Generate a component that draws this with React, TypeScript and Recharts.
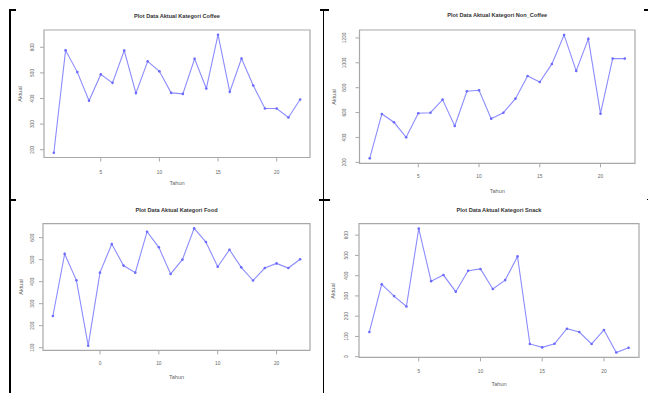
import { LineChart, Line, XAxis, YAxis, ReferenceArea } from 'recharts';

// Tahun 1..22
const years = [1, 2, 3, 4, 5, 6, 7, 8, 9, 10, 11, 12, 13, 14, 15, 16, 17, 18, 19, 20, 21, 22];

const coffee = [188, 588, 503, 391, 494, 461, 587, 421, 545, 506, 422, 418, 555, 439, 649, 426, 556, 451, 361, 361, 326, 396];
const nonCoffee = [232, 589, 522, 401, 594, 599, 704, 492, 771, 779, 551, 599, 712, 894, 846, 991, 1224, 935, 1192, 591, 1034, 1034];
const food = [244, 526, 406, 109, 441, 571, 473, 441, 627, 556, 435, 500, 642, 580, 468, 545, 465, 405, 462, 483, 462, 502];
const snack = [122, 357, 299, 248, 632, 373, 403, 321, 424, 433, 334, 378, 495, 63, 46, 64, 138, 122, 63, 132, 21, 44];

const xTicks = [5, 10, 15, 20];
const xLabels = ['5', '10', '15', '20'];
const foodXLabels = ['0', '10', '10', '20'];

const coffeeTicks = [200, 300, 400, 500, 600];
const nonCoffeeTicks = [200, 400, 600, 800, 1000, 1200];
const foodTicks = [100, 200, 300, 400, 500, 600];
const snackTicks = [0, 100, 200, 300, 400, 500, 600];

const FONT = '"Liberation Sans", Arial, sans-serif';
const LINE = '#8c8cff';
const DOT = '#6a6aff';
const BOX = '#a8a8a8';
const TXT = '#666';

interface PanelProps {
  title: string;
  values: number[];
  yTicks: number[];
  labels: string[];
  pos: [number, number];
  box: { l: number; t: number; r: number; b: number };
  yOff: number;
  xOff: number;
  aktualX: number;
  tahunY: number;
  titleY: number;
}

function Panel(p: PanelProps) {
  const data = years.map((t, i) => ({ t, v: p.values[i] }));
  const lo = Math.min(...p.values);
  const hi = Math.max(...p.values);
  const yPad = (hi - lo) * 0.04;
  const yDom: [number, number] = [lo - yPad, hi + yPad];
  const xPad = (years[years.length - 1] - years[0]) * 0.04;
  const xDom: [number, number] = [years[0] - xPad, years[years.length - 1] + xPad];
  const W = 324;
  const H = 200;
  const midX = (p.box.l + p.box.r) / 2;
  const midY = (p.box.t + p.box.b) / 2;
  const tickSize = 4;

  const YTick = (props: any) => {
    const { x, y, payload } = props;
    return (
      <text x={x} y={y} transform={`rotate(-90 ${x} ${y})`} textAnchor="middle" dy="0.35em"
        fontSize={4.8} fill={TXT} fontFamily={FONT}>
        {payload.value}
      </text>
    );
  };
  const XTick = (props: any) => {
    const { x, y, payload } = props;
    const idx = xTicks.indexOf(payload.value);
    return (
      <text x={x} y={y} textAnchor="middle" dy="0.35em" fontSize={4.8} fill={TXT} fontFamily={FONT}>
        {p.labels[idx]}
      </text>
    );
  };

  return (
    <div style={{ position: 'absolute', left: p.pos[0], top: p.pos[1], width: W, height: H }}>
      <LineChart width={W} height={H} data={data}
        margin={{ top: p.box.t, right: W - p.box.r, left: 0, bottom: 0 }}>
        <XAxis dataKey="t" type="number" domain={xDom} ticks={xTicks} interval={0} allowDataOverflow
          height={H - p.box.b} axisLine={false} tickSize={tickSize} tickMargin={p.xOff - tickSize}
          tickLine={{ stroke: BOX }} tick={XTick} />
        <YAxis type="number" domain={yDom} ticks={p.yTicks} interval={0} allowDataOverflow
          width={p.box.l} axisLine={false} tickSize={tickSize} tickMargin={p.yOff - tickSize}
          tickLine={{ stroke: BOX }} tick={YTick} />
        <ReferenceArea x1={xDom[0]} x2={xDom[1]} y1={yDom[0]} y2={yDom[1]} fill="none" fillOpacity={0}
          stroke={BOX} strokeWidth={1.2} ifOverflow="visible" />
        <Line dataKey="v" type="linear" stroke={LINE} strokeWidth={1.1}
          dot={{ r: 1.3, fill: DOT, stroke: 'none', strokeWidth: 0 }} isAnimationActive={false} />
      </LineChart>
      <div style={{ position: 'absolute', left: midX, top: p.titleY, transform: 'translate(-50%, -50%)',
        fontFamily: FONT, fontWeight: 'bold', fontSize: 5.6, color: '#333', whiteSpace: 'nowrap' }}>
        {p.title}
      </div>
      <div style={{ position: 'absolute', left: midX, top: p.tahunY, transform: 'translate(-50%, -50%)',
        fontFamily: FONT, fontSize: 5.6, color: TXT, whiteSpace: 'nowrap' }}>
        Tahun
      </div>
      <div style={{ position: 'absolute', left: p.aktualX, top: midY, transform: 'translate(-50%, -50%) rotate(-90deg)',
        fontFamily: FONT, fontSize: 5.6, color: TXT, whiteSpace: 'nowrap' }}>
        Aktual
      </div>
    </div>
  );
}

const rule = (left: number, top: number, width: number, height: number) => (
  <div style={{ position: 'absolute', left, top, width, height, background: '#000' }} />
);

export default function App() {
  return (
    <div style={{ position: 'absolute', left: 0, top: 0, width: 648, height: 393, background: '#fff', overflow: 'hidden' }}>
      <Panel title="Plot Data Aktual Kategori Coffee" values={coffee} yTicks={coffeeTicks} labels={xLabels}
        pos={[0, 0]} box={{ l: 44, t: 30, r: 310, b: 157.5 }} yOff={11.6} xOff={15.2} aktualX={20} tahunY={183} titleY={16} />
      <Panel title="Plot Data Aktual Kategori Non_Coffee" values={nonCoffee} yTicks={nonCoffeeTicks} labels={xLabels}
        pos={[324, 0]} box={{ l: 35.5, t: 30, r: 311, b: 163.3 }} yOff={14.8} xOff={13.4} aktualX={10} tahunY={190.7} titleY={15} />
      <Panel title="Plot Data Aktual Kategori Food" values={food} yTicks={foodTicks} labels={foodXLabels}
        pos={[0, 195]} box={{ l: 43, t: 28.7, r: 310, b: 155.4 }} yOff={11} xOff={12.6} aktualX={20.7} tahunY={181.7} titleY={15} />
      <Panel title="Plot Data Aktual Kategori Snack" values={snack} yTicks={snackTicks} labels={xLabels}
        pos={[324, 195]} box={{ l: 35, t: 28.7, r: 315, b: 162.4 }} yOff={12.2} xOff={13.6} aktualX={9.3} tahunY={189.3} titleY={15} />
      {rule(9, 9, 1.6, 384)}
      {rule(9, 9, 7, 1.5)}
      {rule(9, 199, 7, 1.5)}
      {rule(322.5, 9, 1.6, 384)}
      {rule(320, 9, 9, 1.5)}
      {rule(319, 199, 11, 1.5)}
      {rule(644, 9, 4, 1.5)}
      {rule(647, 199, 1, 1)}
    </div>
  );
}
